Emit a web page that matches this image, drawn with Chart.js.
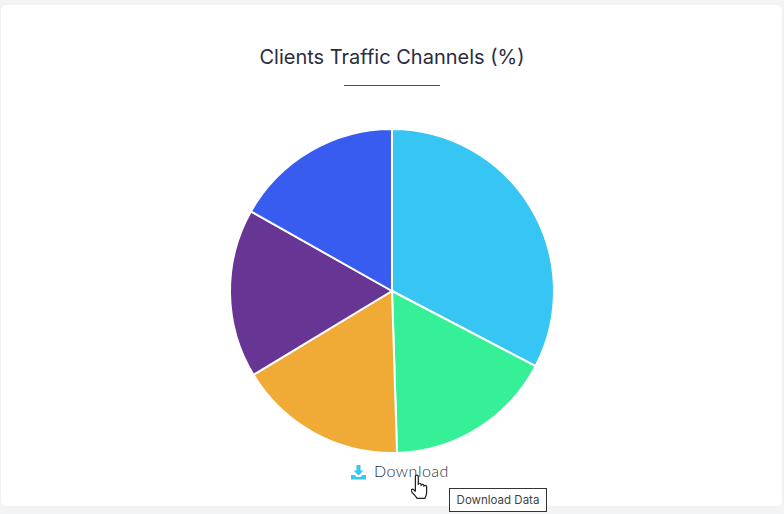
<!DOCTYPE html>
<html>
<head>
<meta charset="utf-8">
<script src="https://cdn.jsdelivr.net/npm/chart.js@4/dist/chart.umd.min.js"></script>
<style>
html,body{margin:0;padding:0;width:784px;height:514px;overflow:hidden;background:#f3f4f5;font-family:Inter,sans-serif}
#card{position:absolute;left:1px;top:5px;width:781px;height:501px;background:#fff;border-radius:5px;box-shadow:0 0 3px rgba(0,0,0,.04)}
#title{position:absolute;left:0;width:784px;top:44px;text-align:center;font-size:20px;line-height:26px;color:#2a2d3e}
#rule{position:absolute;left:344px;top:85px;width:96px;height:1px;background:#5b3a86}
#wrap{position:absolute;left:222px;top:121px;width:340px;height:340px}
#dl{position:absolute;left:374px;top:462px;font-family:Lato,"Open Sans",sans-serif;font-weight:300;font-size:16px;line-height:18px;letter-spacing:.5px;color:#2c3248}
#icon{position:absolute;left:351px;top:465px}
#tip{position:absolute;left:449px;top:488px;width:96px;height:22px;border:1px solid #333;background:#fff;font-size:11.5px;line-height:22px;text-align:center;color:#444}
#hand{position:absolute;left:411px;top:474px}
</style>
</head>
<body>
<div id="card"></div>
<div id="title">Clients Traffic Channels (%)</div>
<div id="rule"></div>
<div id="wrap"><canvas id="c" width="340" height="340"></canvas></div>
<svg id="icon" width="15" height="15" viewBox="0 0 15 15"><path fill="#38c6f4" d="M5.5 0h4v5.5h3L7.5 10.5 2.5 5.5h3z"/><path fill="#38c6f4" d="M0 10h3.5l2 2h4l2-2H15v4.5H0z"/></svg>
<div id="dl">Download</div>
<svg id="hand" width="19" height="25" viewBox="1 0 13 18.6" preserveAspectRatio="none"><path fill="#fff" stroke="#222" stroke-width=".85" stroke-linejoin="round" d="M4 1.8c0-1.3 2-1.3 2 0v6c0-1.2 1.9-1.2 1.9 0v.7c0-1.1 1.9-1.1 1.9 0v.7c0-1 1.9-1 1.9 0v4.5c0 2-.7 3-1.2 4.4H5.2C4.2 16.5 2.7 15 1.4 13.1c-.9-1.4.6-2.4 1.4-1.4l1.2 1.1z"/></svg>
<div id="tip">Download Data</div>
<script>
const channelLabels = ["Channel A","Channel B","Channel C","Channel D","Channel E"];
const channelValues = [33,17,17,17,17];
const channelColors = ["#37c5f3","#36f097","#f0aa36","#673594","#385bf0"];
new Chart(document.getElementById("c"),{
  type:"pie",
  data:{labels:channelLabels,datasets:[{data:channelValues,backgroundColor:channelColors,borderColor:"#fff",borderWidth:2}]},
  options:{responsive:false,animation:false,layout:{padding:7},plugins:{legend:{display:false},tooltip:{enabled:false}}}
});
</script>
</body>
</html>
